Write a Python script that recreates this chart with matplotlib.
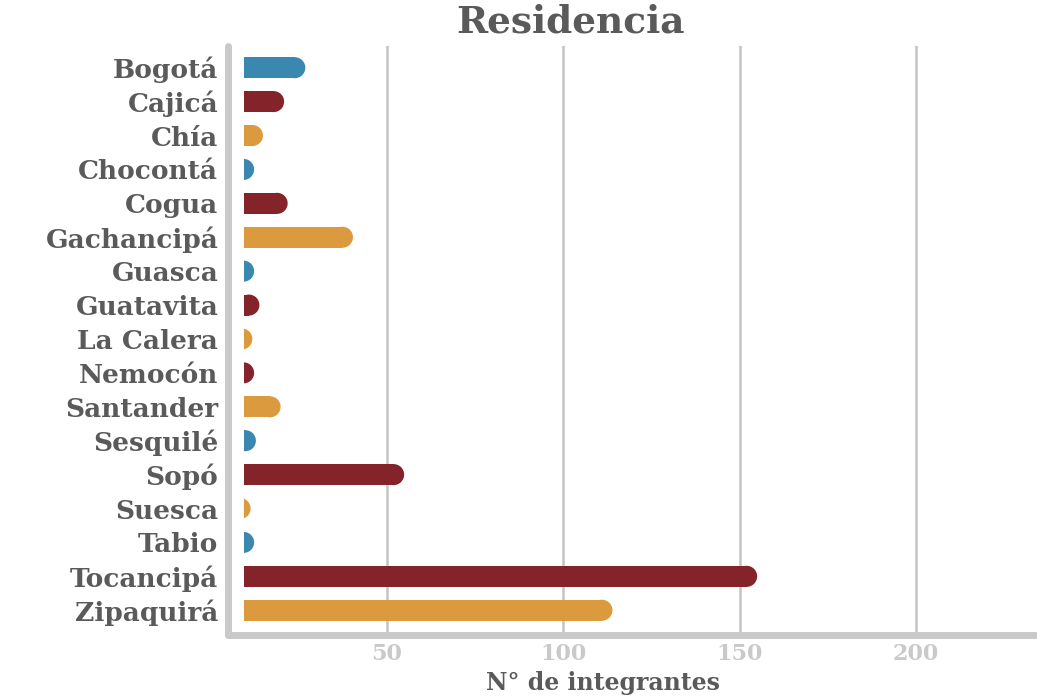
import matplotlib
matplotlib.use("Agg")
import matplotlib.pyplot as plt
from matplotlib.patches import Rectangle, Ellipse

# datos
municipios = ["Bogotá", "Cajicá", "Chía", "Chocontá", "Cogua", "Gachancipá",
              "Guasca", "Guatavita", "La Calera", "Nemocón", "Santander",
              "Sesquilé", "Sopó", "Suesca", "Tabio", "Tocancipá", "Zipaquirá"]
integrantes = [27, 21, 15, 12.5, 22, 40.5, 12.5, 14, 12, 12.5, 20, 13, 55, 11.5, 12.5, 155, 114]
AZUL, ROJO, NARANJA = "#3a87b0", "#84232a", "#dc9a3e"
colores = [AZUL, ROJO, NARANJA, AZUL, ROJO, NARANJA, AZUL, ROJO, NARANJA,
           ROJO, NARANJA, AZUL, ROJO, NARANJA, AZUL, ROJO, NARANJA]
xticks = [50, 100, 150, 200]

TXT = "#5a5a5a"
GRIS = "#c9c9c9"
FUENTE = "DejaVu Serif"

fig = plt.figure(figsize=(10.37, 6.96), dpi=100)
ax = fig.add_axes([228 / 1037, 1 - 635 / 696, 807 / 1037, 589 / 696])

xmin, xmax = 5.1, 233.7
ymin, ymax = 16.73, -0.64
ax.set_xlim(xmin, xmax)
ax.set_ylim(ymin, ymax)

# radio del extremo redondeado en unidades de datos
alto = 0.62
px_x = 807 / (xmax - xmin)
px_y = 589 / (ymin - ymax)
rx = (alto * px_y / 2) / px_x

recorte = Rectangle((9.7, -5), 400, 40, transform=ax.transData)

for i, (v, c) in enumerate(zip(integrantes, colores)):
    r = Rectangle((0, i - alto / 2), v - rx, alto, facecolor=c, edgecolor="none")
    e = Ellipse((v - rx, i), 2 * rx, alto, facecolor=c, edgecolor="none")
    for p in (r, e):
        ax.add_patch(p)
        p.set_clip_path(recorte)

ax.set_yticks(range(len(municipios)))
ax.set_yticklabels(municipios)
ax.set_xticks(xticks)
ax.tick_params(axis="both", length=0)
ax.tick_params(axis="y", pad=7, labelcolor=TXT, labelsize=19)
ax.tick_params(axis="x", pad=6, labelcolor=GRIS, labelsize=16)
for lab in ax.get_yticklabels() + ax.get_xticklabels():
    lab.set_family(FUENTE)
    lab.set_fontweight("bold")

ax.grid(axis="x", color="#c4c4c4", linewidth=1.8)
ax.set_axisbelow(True)

for s in ["top", "right"]:
    ax.spines[s].set_visible(False)
for s in ["left", "bottom"]:
    ax.spines[s].set_color(GRIS)
    ax.spines[s].set_linewidth(5)
    ax.spines[s].set_capstyle("round")

fig.text(570 / 1037, 1 - 22 / 696, "Residencia", ha="center", va="center",
         family=FUENTE, fontweight="bold", fontsize=27, color=TXT)
fig.text(603 / 1037, 1 - 690 / 696, "N° de integrantes", ha="center", va="baseline",
         family=FUENTE, fontweight="bold", fontsize=17, color=TXT)

fig.savefig("out.png", dpi=100)
